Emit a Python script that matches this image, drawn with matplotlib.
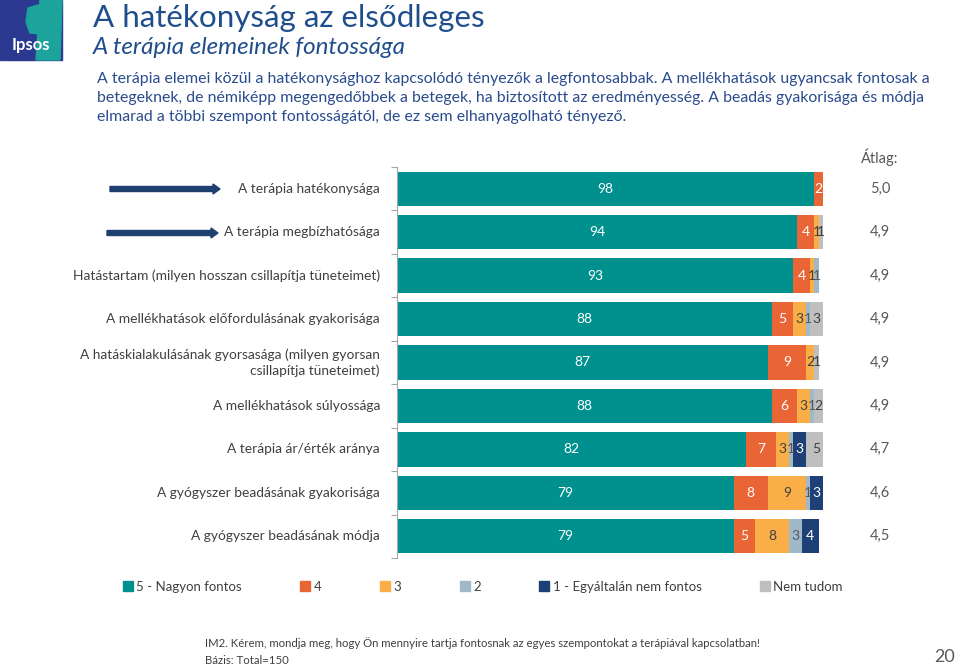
import numpy as np
import matplotlib.pyplot as plt
from matplotlib.patches import Rectangle, Polygon, FancyArrow
from matplotlib.lines import Line2D

plt.rcParams['font.family'] = ['Lato', 'DejaVu Sans']

# --- data (percent)
categories = [
    "A terápia hatékonysága",
    "A terápia megbízhatósága",
    "Hatástartam (milyen hosszan csillapítja tüneteimet)",
    "A mellékhatások előfordulásának gyakorisága",
    "A hatáskialakulásának gyorsasága (milyen gyorsan\ncsillapítja tüneteimet)",
    "A mellékhatások súlyossága",
    "A terápia ár/érték aránya",
    "A gyógyszer beadásának gyakorisága",
    "A gyógyszer beadásának módja",
]
s5 = [98, 94, 93, 88, 87, 88, 82, 79, 79]
s4 = [2, 4, 4, 5, 9, 6, 7, 8, 5]
s3 = [0, 1, 1, 3, 2, 3, 3, 9, 8]
s2 = [0, 0, 1, 1, 0, 1, 1, 1, 3]
s1 = [0, 0, 0, 0, 0, 0, 3, 3, 4]
dk = [0, 1, 0, 3, 1, 2, 5, 0, 0]
averages = ["5,0", "4,9", "4,9", "4,9", "4,9", "4,9", "4,7", "4,6", "4,5"]

series = [s5, s4, s3, s2, s1, dk]
names = ["5 - Nagyon fontos", "4", "3", "2", "1 - Egyáltalán nem fontos", "Nem tudom"]
colors = ["#00918F", "#EA6535", "#F9AE47", "#9FB9C9", "#1F3F77", "#BFBFBF"]
label_colors = ["white", "white", "#404040", "#595959", "white", "#404040"]

W, H = 960, 666
fig = plt.figure(figsize=(W / 100, H / 100), dpi=100)


def fx(x):
    return x / W


def fy(y):
    return 1 - y / H


# --- logo
fig.patches.append(Rectangle((0, fy(60)), fx(62), 60 / H, transform=fig.transFigure,
                             color="#2B3990", zorder=1))
fig.patches.append(Polygon([(fx(40), fy(0)), (fx(62), fy(0)), (fx(60), fy(60)),
                            (fx(36), fy(60)), (fx(38), fy(30))],
                           closed=True, transform=fig.transFigure, color="#1BA39C", zorder=2))
fig.patches.append(Polygon([(fx(28), fy(8)), (fx(38), fy(5)), (fx(46), fy(14)), (fx(44), fy(30)),
                            (fx(40), fy(34)), (fx(30), fy(33)), (fx(26), fy(22))],
                           closed=True, transform=fig.transFigure, color="#1BA39C", zorder=2))
fig.text(fx(31), fy(45), "Ipsos", color="white", fontsize=12, fontweight="bold",
         ha="center", va="center", zorder=3)

# --- headings
title_col = "#1F4E8C"
fig.text(fx(93), fy(18), "A hatékonyság az elsődleges", fontsize=22.6, color=title_col,
         va="center")
fig.text(fx(93), fy(47), "A terápia elemeinek fontossága", fontsize=17.4, color=title_col,
         va="center", style="italic")
body = ("A terápia elemei közül a hatékonysághoz kapcsolódó tényezők a legfontosabbak. A mellékhatások ugyancsak fontosak a\n"
        "betegeknek, de némiképp megengedőbbek a betegek, ha biztosított az eredményesség. A beadás gyakorisága és módja\n"
        "elmarad a többi szempont fontosságától, de ez sem elhanyagolható tényező.")
fig.text(fx(97), fy(98), body, fontsize=11.4, color="#2A4B8D", va="center", linespacing=1.5)

# --- bars
ax = fig.add_axes([fx(397), fy(558), (823 - 397) / W, (558 - 167) / H])
y = np.arange(len(categories))
left = np.zeros(len(categories))
for vals, col, lcol in zip(series, colors, label_colors):
    vals = np.array(vals, dtype=float)
    ax.barh(y, vals, left=left, height=0.79, color=col)
    for yi, v, l in zip(y, vals, left):
        if v > 0:
            ax.text(l + v / 2, yi, f"{int(v)}", ha="center", va="center",
                    color=lcol, fontsize=10)
    left += vals

ax.set_xlim(0, 100)
ax.set_ylim(len(categories) - 0.5, -0.5)
ax.set_xticks([])
ax.set_yticks(np.arange(-0.5, len(categories), 1))
ax.set_yticklabels([])
ax.tick_params(axis="y", direction="out", length=4, color="#A6A6A6")
for s in ["top", "right", "bottom"]:
    ax.spines[s].set_visible(False)
ax.spines["left"].set_color("#A6A6A6")

for yi, cat in zip(y, categories):
    ax.text(-4, yi, cat, ha="right", va="center", fontsize=9.9, color="#404040",
            multialignment="right", linespacing=1.3)
for yi, a in zip(y, averages):
    ax.text(113.4, yi, a, ha="center", va="center", fontsize=10.5, color="#595959", clip_on=False)
ax.text(113.4, -0.73, "Átlag:", ha="center", va="center", fontsize=10.5, color="#595959")

# --- arrows
for x0, x1, yy in [(110, 220, 189), (107, 218, 233)]:
    fig.patches.append(FancyArrow(fx(x0), fy(yy), fx(x1 - x0), 0, width=5 / H,
                                  head_width=10 / H, head_length=7 / W, length_includes_head=True,
                                  transform=fig.transFigure, color="#1F3F6E"))

# --- legend
handles = [Line2D([0], [0], marker="s", linestyle="none", markersize=7,
                  markerfacecolor=c, markeredgecolor=c) for c in colors]
fig.legend(handles, names, loc="center", bbox_to_anchor=(fx(483), fy(587)), ncol=6,
           frameon=False, fontsize=9.5, handlelength=0.7, handletextpad=0.3,
           columnspacing=4.45, labelcolor="#404040")

# --- footer
fig.text(fx(205), fy(643), "IM2. Kérem, mondja meg, hogy Ön mennyire tartja fontosnak az egyes szempontokat a terápiával kapcsolatban!",
         fontsize=8.2, color="#404040", va="center")
fig.text(fx(205), fy(660), "Bázis: Total=150", fontsize=8.2, color="#404040", va="center")
fig.text(fx(945), fy(657), "20", fontsize=13, color="#595959", ha="center", va="center")

fig.savefig("out.png", dpi=100)
